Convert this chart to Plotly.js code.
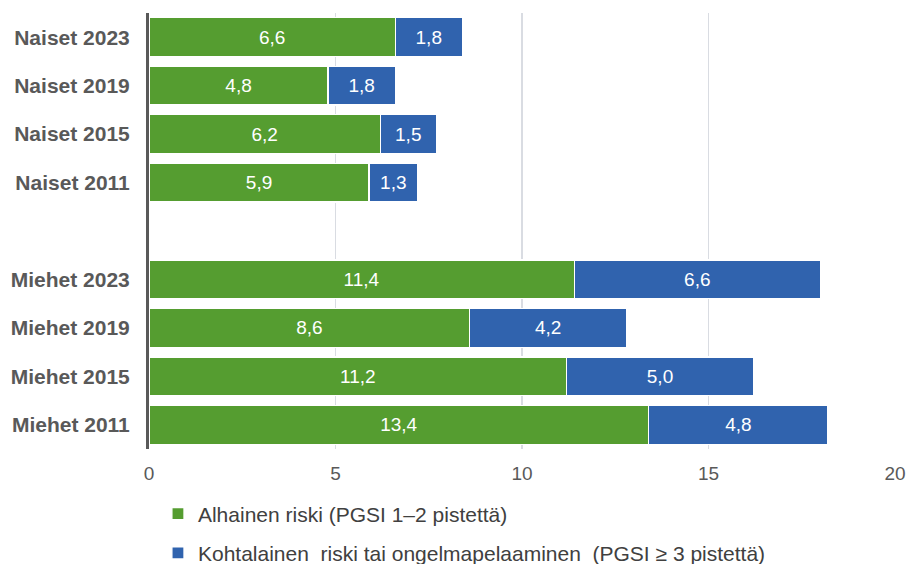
<!DOCTYPE html>
<html><head><meta charset="utf-8">
<script src="https://cdn.plot.ly/plotly-3.0.1.min.js"></script>
<style>html,body{margin:0;padding:0;background:#fff}#chart{width:917px;height:564px}</style>
</head><body><div id="chart"></div>
<script>
const categories = ['Naiset 2023','Naiset 2019','Naiset 2015','Naiset 2011',' ','Miehet 2023','Miehet 2019','Miehet 2015','Miehet 2011'];
const lowRisk = [6.6, 4.8, 6.2, 5.9, null, 11.4, 8.6, 11.2, 13.4];
const moderateRisk = [1.8, 1.8, 1.5, 1.3, null, 6.6, 4.2, 5.0, 4.8];
const seriesNames = ['Alhainen riski (PGSI 1\u20132 pistettä)', 'Kohtalainen  riski tai ongelmapelaaminen  (PGSI \u2265 3 pistettä)'];
const xTicks = [0, 5, 10, 15, 20];

const common = {
  type: 'bar', orientation: 'h', y: categories,
  texttemplate: '%{x:.1f}', textposition: 'inside', insidetextanchor: 'middle',
  textfont: {family: 'Liberation Sans, Arial, sans-serif', size: 19, color: '#ffffff'},
  hoverinfo: 'skip', cliponaxis: false
};
const data = [
  Object.assign({}, common, {x: lowRisk, name: seriesNames[0], legendgroup: 'a',
    marker: {color: '#559d30', line: {color: '#ffffff', width: 1.2}}}),
  Object.assign({}, common, {x: moderateRisk, name: seriesNames[1], legendgroup: 'b',
    marker: {color: '#3063ae', line: {color: '#ffffff', width: 1.2}}})
];
const layout = {
  width: 917, height: 564,
  margin: {l: 149, r: 22, t: 13, b: 115},
  barmode: 'stack', bargap: 0.2,
  separators: ', ',
  paper_bgcolor: '#ffffff', plot_bgcolor: '#ffffff',
  showlegend: true,
  legend: {orientation: 'v', x: 0.012, xanchor: 'left', yref: 'container', y: 0.125, yanchor: 'top',
    font: {family: 'Liberation Sans, Arial, sans-serif', size: 21, color: '#404040'},
    tracegroupgap: 9, itemwidth: 30, traceorder: 'grouped'},
  xaxis: {range: [0, 20], tickvals: xTicks, ticktext: xTicks.map(String),
    showgrid: true, gridcolor: '#d9dce2', gridwidth: 1.5, zeroline: false, showline: false,
    ticks: 'outside', ticklen: 7, tickcolor: 'rgba(0,0,0,0)',
    tickfont: {family: 'Liberation Sans, Arial, sans-serif', size: 19, color: '#595959'},
    fixedrange: true},
  yaxis: {type: 'category', categoryorder: 'array', categoryarray: categories, autorange: 'reversed',
    showline: true, linecolor: '#595959', linewidth: 3, showgrid: false, zeroline: false,
    ticks: 'outside', ticklen: 12, tickcolor: 'rgba(0,0,0,0)',
    tickfont: {family: 'Liberation Sans, Arial, sans-serif', size: 21, color: '#595959', weight: 'bold'},
    fixedrange: true}
};
Plotly.newPlot('chart', data, layout, {displayModeBar: false, staticPlot: true});
</script></body></html>
